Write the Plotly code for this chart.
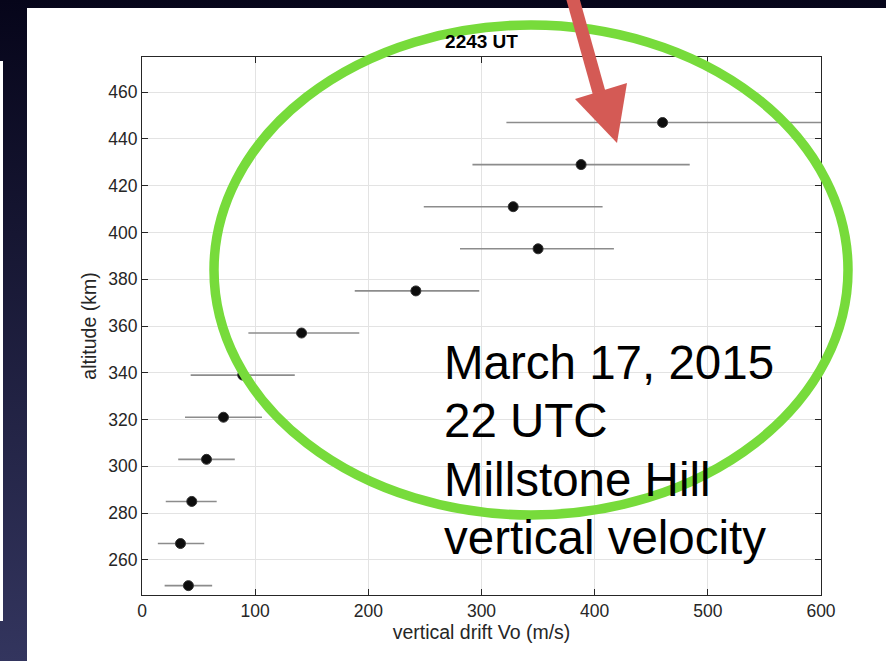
import base64
import plotly.graph_objects as go

# ---- data ----
altitude_km = [249, 267, 285, 303, 321, 339, 357, 375, 393, 411, 429, 447]
drift_vo = [41, 34, 44, 57, 72, 89, 141, 242, 350, 328, 388, 460]
drift_low = [20, 14, 21, 32, 38, 43, 94, 188, 281, 249, 292, 322]
drift_high = [62, 55, 66, 82, 106, 135, 192, 298, 417, 407, 484, 600]

x_ticks = [0, 100, 200, 300, 400, 500, 600]
y_ticks = [260, 280, 300, 320, 340, 360, 380, 400, 420, 440, 460]

chart_title = "2243 UT"
x_label = "vertical drift Vo (m/s)"
y_label = "altitude (km)"
note_lines = ["March 17, 2015", "22 UTC", "Millstone Hill", "vertical velocity"]

# ---- layout geometry ----
FW, FH = 886, 661
L, R, T, B = 142, 65, 57, 66
W, H = FW - L - R, FH - T - B
FONT = "Liberation Sans, Arial, Helvetica, sans-serif"


def px_x(p):
    return (p - L) / W


def px_y(p):
    return (T + H - p) / H


err_plus = [h - v for h, v in zip(drift_high, drift_vo)]
err_minus = [v - l for v, l in zip(drift_vo, drift_low)]

fig = go.Figure()
fig.add_trace(go.Scatter(
    x=drift_vo, y=altitude_km, mode="markers",
    marker=dict(size=10, color="#0d0d0d", line=dict(color="#333333", width=1)),
    error_x=dict(type="data", symmetric=False, array=err_plus, arrayminus=err_minus,
                 color="#8c8c8c", thickness=1.6, width=0),
    showlegend=False, cliponaxis=True,
))

# background (dark gradient slide with white panel)
svg = (
    f'<svg xmlns="http://www.w3.org/2000/svg" width="{FW}" height="{FH}" '
    f'viewBox="0 0 {FW} {FH}" preserveAspectRatio="none">'
    '<defs><linearGradient id="g" x1="0" y1="0" x2="0" y2="1">'
    '<stop offset="0" stop-color="#06051a"/><stop offset="1" stop-color="#33355e"/>'
    '</linearGradient></defs>'
    f'<rect width="{FW}" height="{FH}" fill="url(#g)"/>'
    f'<rect x="27" y="8" width="{FW-27}" height="{FH-8}" fill="#ffffff"/>'
    '<rect x="0" y="61" width="3" height="560" fill="#ffffff"/>'
    '</svg>'
)
src = "data:image/svg+xml;base64," + base64.b64encode(svg.encode()).decode()

shapes = []
# green ellipse
shapes.append(dict(type="circle", xref="paper", yref="paper",
                   x0=px_x(214), x1=px_x(848), y0=px_y(515), y1=px_y(25),
                   line=dict(color="#77db3b", width=9.5), layer="above"))
# red arrow shaft
shapes.append(dict(type="line", xref="paper", yref="paper",
                   x0=px_x(571.5), y0=px_y(-6), x1=px_x(600), y1=px_y(96),
                   line=dict(color="#d45a55", width=13), layer="above"))
# red arrow head
pts = [(575, 99), (627, 83), (617, 143)]
path = "M " + " L ".join(f"{px_x(a):.5f},{px_y(b):.5f}" for a, b in pts) + " Z"
shapes.append(dict(type="path", xref="paper", yref="paper", path=path,
                   fillcolor="#d45a55", line=dict(width=0), layer="above"))

annotations = []
baselines = [378, 436, 495, 553]
for txt, bl in zip(note_lines, baselines):
    annotations.append(dict(text=txt, xref="paper", yref="paper",
                            x=px_x(442), y=px_y(bl - 16), xanchor="left", yanchor="middle",
                            showarrow=False,
                            font=dict(family=FONT, size=47.5, color="#000000")))

axis_common = dict(
    showline=True, linecolor="#262626", linewidth=1, mirror="ticks",
    ticks="inside", ticklen=6, tickwidth=1, tickcolor="#262626",
    showgrid=True, gridcolor="#e3e3e3", gridwidth=1, zeroline=False,
    tickfont=dict(family=FONT, size=17.5, color="#262626"),
)

fig.update_layout(
    width=FW, height=FH,
    margin=dict(l=L, r=R, t=T, b=B, pad=0),
    paper_bgcolor="#1a1a3a", plot_bgcolor="rgba(0,0,0,0)",
    images=[dict(source=src, xref="paper", yref="paper", x=px_x(0), y=px_y(0),
                 sizex=FW / W, sizey=FH / H, xanchor="left", yanchor="top",
                 sizing="stretch", layer="below")],
    shapes=shapes, annotations=annotations,
    title=dict(text=f"<b>{chart_title}</b>", x=0.5, xref="paper", xanchor="center",
               y=1 - 41 / FH, yref="container", yanchor="middle",
               font=dict(family=FONT, size=19, color="#000000")),
    xaxis=dict(range=[0, 600], tickvals=x_ticks, **axis_common,
               title=dict(text=x_label, standoff=0,
                          font=dict(family=FONT, size=19.5, color="#262626"))),
    yaxis=dict(range=[245, 475], tickvals=y_ticks, **axis_common,
               title=dict(text=y_label, standoff=6,
                          font=dict(family=FONT, size=19.5, color="#262626"))),
)

fig.write_html("out.html")
